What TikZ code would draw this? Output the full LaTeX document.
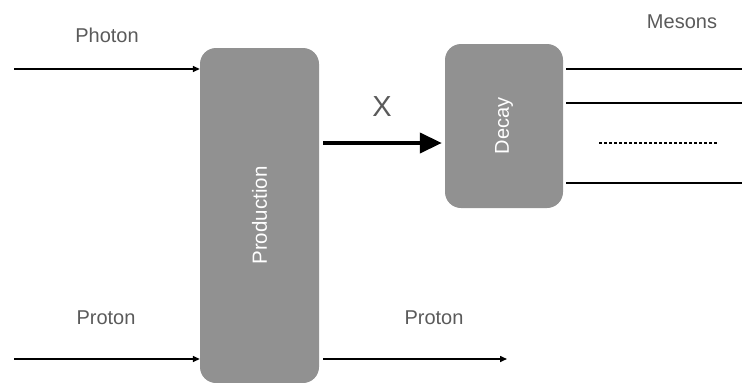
\documentclass[tikz,border=0pt]{standalone}
\usepackage{fontspec}
\setmainfont{Liberation Sans}
\usetikzlibrary{arrows.meta}
\definecolor{boxgray}{RGB}{145,145,145}
\definecolor{labelgray}{RGB}{90,90,90}

\begin{document}
\begin{tikzpicture}[x=1pt,y=-1pt,
	stage/.style={fill=boxgray, rounded corners=16pt, inner sep=0pt, text=white, font=\fontsize{20}{24}\selectfont},
	label/.style={text=labelgray, font=\fontsize{20}{24}\selectfont},
	particle/.style={line width=1.5pt, -{Triangle[length=7pt,width=6pt]}},
	meson/.style={line width=1.5pt}]
\useasboundingbox (0,0) rectangle (742,383);

% boxes
\node[stage, minimum width=119pt, minimum height=335pt] (prod) at (259.5,215.5) {};
\node[rotate=90, text=white, font=\fontsize{20.5}{24}\selectfont] (prodtext) at (prod.center) {Production};
\node[stage, minimum width=118pt, minimum height=164pt] (decay) at (504,126) {};
\node[rotate=90, text=white, font=\fontsize{20}{24}\selectfont] (decaytext) at (decay.center) {Decay};

% labels
\node[label] (photon) at (107,35) {Photon};
\node[label] (protonin) at (106,318) {Proton};
\node[label] (protonout) at (434,318) {Proton};
\node[label] (mesons) at (682,22) {Mesons};
\node[text=labelgray, font=\fontsize{29}{34}\selectfont] (xlab) at (382,107) {X};

% incoming and outgoing particles
\coordinate (photonstart) at (14,69);
\coordinate (protonstart) at (14,359);
\coordinate (protonend) at (507,359);
\draw[particle] (photonstart) -- (prod.west |- photonstart);
\draw[particle] (protonstart) -- (prod.west |- protonstart);
\draw[particle] ([xshift=4pt]prod.east |- protonend) -- (protonend);

% X
\draw[line width=4pt, -{Triangle[length=22pt,width=20pt]}, shorten <=4pt, shorten >=3pt] (prod.east |- 0,143) -- (decay.west |- 0,143);

% mesons
\coordinate (m1) at (742,69);
\coordinate (m2) at (742,103);
\coordinate (m3) at (742,183);
\coordinate (dots1) at (599,143);
\coordinate (dots2) at (718,143);
\draw[meson] ([xshift=3pt]decay.east |- m1) -- (m1);
\draw[meson] ([xshift=3pt]decay.east |- m2) -- (m2);
\draw[meson] ([xshift=3pt]decay.east |- m3) -- (m3);
\draw[line width=1.2pt, dash pattern=on 3pt off 2pt] (dots1) -- (dots2);
\end{tikzpicture}
\end{document}
